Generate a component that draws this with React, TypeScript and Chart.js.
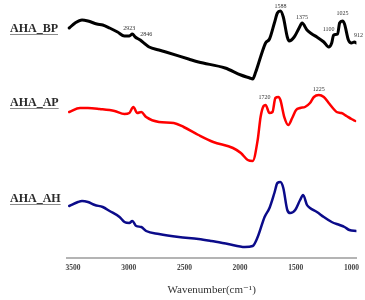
import React, { useEffect, useRef } from "react";
import { Chart, registerables } from "chart.js";

Chart.register(...registerables);

// Wavenumber axis ticks
const X_TICKS = [3500, 3000, 2500, 2000, 1500, 1000];

// AHA_BP (black) – offset intensity (a.u.)
const BP_WN = [3535, 3482, 3420, 3367, 3287, 3234, 3172, 3101, 3039, 2995, 2968, 2942, 2897, 2853, 2817, 2729, 2667, 2463, 2374, 2135, 1993, 1913, 1887, 1860, 1816, 1771, 1736, 1692, 1665, 1638, 1612, 1576, 1559, 1514, 1470, 1443, 1399, 1355, 1310, 1248, 1204, 1177, 1160, 1124, 1106, 1080, 1062, 1027, 1000, 973, 956];
const BP_VAL = [230, 235, 238, 237, 234, 233, 230, 226, 222, 222, 224, 221, 218, 214, 211, 208, 206, 199, 196, 190, 183, 180, 179, 186, 201, 215, 219, 235, 245, 247, 241, 221, 217, 221, 230, 235, 228, 224, 221, 216, 211, 215, 223, 224, 235, 237, 234, 218, 215, 216, 215];

// AHA_AP (red)
const AP_WN = [3535, 3438, 3367, 3261, 3128, 3039, 2995, 2959, 2924, 2888, 2844, 2729, 2596, 2507, 2374, 2241, 2064, 1993, 1931, 1887, 1842, 1816, 1789, 1771, 1736, 1709, 1683, 1656, 1638, 1603, 1567, 1532, 1497, 1461, 1417, 1372, 1337, 1293, 1248, 1204, 1160, 1133, 1089, 1044, 1000, 965];
const AP_VAL = [146, 150, 150, 149, 147, 144, 145, 151, 145, 146, 141, 136, 135, 131, 123, 116, 110, 105, 98, 97, 118, 141, 152, 153, 145, 146, 160, 161, 158, 141, 133, 140, 148, 150, 151, 155, 161, 163, 161, 155, 149, 146, 145, 142, 139, 137];

// AHA_AH (navy)
const AH_WN = [3535, 3456, 3420, 3367, 3305, 3234, 3172, 3083, 3039, 2995, 2968, 2933, 2888, 2844, 2729, 2551, 2374, 2259, 2108, 1957, 1887, 1842, 1780, 1736, 1692, 1665, 1638, 1612, 1576, 1550, 1505, 1461, 1434, 1399, 1372, 1310, 1248, 1177, 1106, 1062, 1018, 956];
const AH_VAL = [52, 56, 57, 56, 53, 51, 47, 41, 36, 35, 37, 32, 31, 27, 24, 21, 19, 17, 14, 11, 12, 21, 41, 50, 65, 75, 76, 70, 48, 45, 48, 58, 63, 53, 50, 46, 41, 36, 33, 31, 28, 27];

const SERIES_NAMES = ["AHA_BP", "AHA_AP", "AHA_AH"];

// Peak annotations: text and the wavenumber of the data point they mark
const BP_PEAK_TEXT = ["2923", "2846", "1588", "1375", "1100", "1025", "912"];
const BP_PEAK_AT = [2968, 2897, 1638, 1443, 1124, 1080, 973];
const AP_PEAK_TEXT = ["1720", "1225"];
const AP_PEAK_AT = [1789, 1293];

const SERIF = '"Liberation Serif", "Times New Roman", "DejaVu Serif", serif';

// label offsets (layout only)
const BP_PEAK_OFFSET: [number, number][] = [[-3, -6], [6, -6], [0, -5], [0, -6], [-9, -5], [0, -8], [4, -7]];
const AP_PEAK_OFFSET: [number, number][] = [[1, -9], [0, -6]];
const NAME_POS: [number, number][] = [[10, 28], [10, 102], [10, 198]];

function toPoints(xs: number[], ys: number[]) {
  return xs.map((x, i) => ({ x, y: ys[i] }));
}

export default function App() {
  const ref = useRef<HTMLCanvasElement | null>(null);

  useEffect(() => {
    if (!ref.current) return;

    const annotate = {
      id: "annotate",
      afterDatasetsDraw(chart: any) {
        const ctx = chart.ctx;
        const xs = chart.scales.x;
        const ys = chart.scales.y;
        ctx.save();
        // series names
        ctx.font = `bold 12px ${SERIF}`;
        ctx.fillStyle = "#2a2a2a";
        ctx.textAlign = "left";
        ctx.textBaseline = "alphabetic";
        SERIES_NAMES.forEach((name, i) => {
          const [px, py] = NAME_POS[i];
          ctx.fillText(name, px, py + 4);
          const w = ctx.measureText(name).width;
          ctx.strokeStyle = "#8a8a8a";
          ctx.lineWidth = 1.2;
          ctx.beginPath();
          ctx.moveTo(px, py + 6.5);
          ctx.lineTo(px + w, py + 6.5);
          ctx.stroke();
        });
        // peak labels
        ctx.font = `6px ${SERIF}`;
        ctx.fillStyle = "#333";
        ctx.textAlign = "center";
        ctx.textBaseline = "middle";
        const drawPeaks = (texts: string[], at: number[], wn: number[], val: number[], off: [number, number][]) => {
          texts.forEach((t, i) => {
            const idx = wn.indexOf(at[i]);
            const px = xs.getPixelForValue(wn[idx]);
            const py = ys.getPixelForValue(val[idx]);
            ctx.fillText(t, px + off[i][0], py + off[i][1]);
          });
        };
        drawPeaks(BP_PEAK_TEXT, BP_PEAK_AT, BP_WN, BP_VAL, BP_PEAK_OFFSET);
        drawPeaks(AP_PEAK_TEXT, AP_PEAK_AT, AP_WN, AP_VAL, AP_PEAK_OFFSET);
        ctx.restore();
      },
    };

    const chart = new Chart(ref.current, {
      type: "line",
      data: {
        datasets: [
          { label: SERIES_NAMES[0], data: toPoints(BP_WN, BP_VAL), borderColor: "#000000", borderWidth: 3 },
          { label: SERIES_NAMES[1], data: toPoints(AP_WN, AP_VAL), borderColor: "#ff0000", borderWidth: 2.5 },
          { label: SERIES_NAMES[2], data: toPoints(AH_WN, AH_VAL), borderColor: "#0b0b8a", borderWidth: 2.5 },
        ],
      },
      options: {
        animation: false,
        responsive: false,
        elements: {
          point: { radius: 0 },
          line: { cubicInterpolationMode: "monotone", borderCapStyle: "round", borderJoinStyle: "round" },
        },
        layout: { padding: { left: 67, right: 5, top: 0, bottom: 0 } },
        plugins: { legend: { display: false }, tooltip: { enabled: false } },
        scales: {
          x: {
            type: "linear",
            reverse: true,
            min: 955,
            max: 3555,
            afterBuildTicks: (scale: any) => {
              scale.ticks = X_TICKS.map((v) => ({ value: v }));
            },
            afterFit: (scale: any) => {
              scale.height = 42;
            },
            grid: { display: false, drawTicks: false },
            border: { display: true, color: "#b4b4b4", width: 2 },
            ticks: {
              padding: 6,
              color: "#444",
              font: { family: SERIF, size: 7.5, weight: "bold" },
              maxRotation: 0,
              autoSkip: false,
              callback: (v: any) => String(v),
            },
            title: {
              display: true,
              text: "Wavenumber(cm⁻¹)",
              color: "#333",
              font: { family: SERIF, size: 11 },
              padding: { top: 0, bottom: 3 },
            },
          },
          y: { display: false, min: 0, max: 258 },
        },
      },
      plugins: [annotate],
    } as any);

    return () => chart.destroy();
  }, []);

  return (
    <div style={{ position: "fixed", left: 0, top: 0, width: 365, height: 300, background: "#fff" }}>
      <canvas ref={ref} width={365} height={300} style={{ display: "block", width: 365, height: 300 }} />
    </div>
  );
}
